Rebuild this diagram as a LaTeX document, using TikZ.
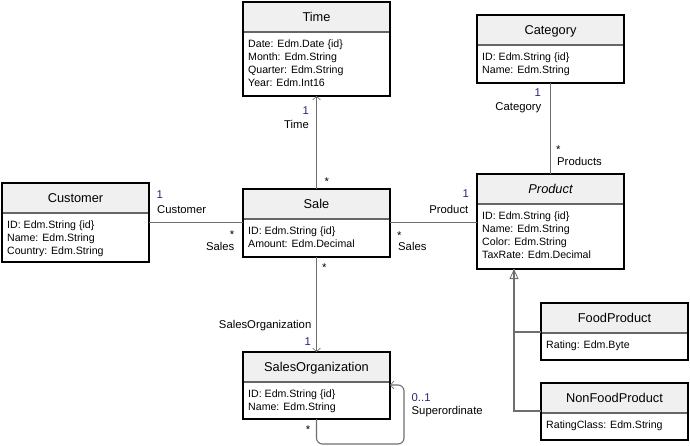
\documentclass[tikz,border=0pt]{standalone}
\usepackage{fontspec}
\setmainfont{Liberation Sans}
\usetikzlibrary{positioning,arrows.meta}
\definecolor{headgray}{HTML}{F0F0F0}
\definecolor{linegray}{HTML}{6E6E6E}
\definecolor{multblue}{HTML}{2E2470}
\tikzset{
  head/.style={draw=black, line width=1.5pt, fill=headgray, inner sep=0pt, outer sep=0pt,
    minimum width=147pt, minimum height=30pt, text height=9.2pt, text depth=0pt,
    font=\fontsize{12.8}{15}\selectfont},
  body/.style={draw=black, line width=1.5pt, fill=white, inner sep=0pt, outer sep=0pt,
    minimum width=147pt},
  sep/.style={draw=gray!80!black, line width=1.5pt, shorten <=0.75pt, shorten >=0.75pt},
  attrs/.style={inner sep=0pt, align=left, font=\fontsize{10.6}{13}\selectfont},
  assoc/.style={draw=linegray, line width=1.1pt},
  nav/.style={-{Straight Barb[length=3.5pt,width=8pt,line width=0.7pt]}},
  gen/.style={-{Triangle[open,length=10pt,width=9pt,line width=0.8pt,fill=white]}},
  lbl/.style={inner sep=0pt, text height=8pt, text depth=2pt, text=black,
    font=\fontsize{11.3}{13}\selectfont},
  mult/.style={lbl, text=multblue},
}
\begin{document}
\begin{tikzpicture}[x=1pt, y=-1pt]
  \useasboundingbox (0,0) rectangle (690,446);
  % Klasse Time
  \node[head] (time) at (316.5,17) {Time};
  \node[body, minimum height=64pt, below=0pt of time] (time-a) {};
  \node[attrs, below right=7.5pt and 5pt of time-a.north west] (time-t)
    {Date: Edm.Date \{id\}\\Month: Edm.String\\Quarter: Edm.String\\Year: Edm.Int16};
  % Klasse Category
  \node[head] (category) at (550.5,30) {Category};
  \node[body, minimum height=38pt, below=0pt of category] (category-a) {};
  \node[attrs, below right=7.5pt and 5pt of category-a.north west] (category-t)
    {ID: Edm.String \{id\}\\Name: Edm.String};
  % Klasse Customer
  \node[head] (customer) at (75.5,198) {Customer};
  \node[body, minimum height=49pt, below=0pt of customer] (customer-a) {};
  \node[attrs, below right=7.5pt and 5pt of customer-a.north west] (customer-t)
    {ID: Edm.String \{id\}\\Name: Edm.String\\Country: Edm.String};
  % Klasse Sale
  \node[head] (sale) at (316.5,204) {Sale};
  \node[body, minimum height=38pt, below=0pt of sale] (sale-a) {};
  \node[attrs, below right=7.5pt and 5pt of sale-a.north west] (sale-t)
    {ID: Edm.String \{id\}\\Amount: Edm.Decimal};
  % Klasse Product (abstrakt)
  \node[head] (product) at (550.5,189) {\itshape Product};
  \node[body, minimum height=65pt, below=0pt of product] (product-a) {};
  \node[attrs, below right=7.5pt and 5pt of product-a.north west] (product-t)
    {ID: Edm.String \{id\}\\Name: Edm.String\\Color: Edm.String\\TaxRate: Edm.Decimal};
  % Klasse SalesOrganization
  \node[head] (salesorg) at (316.5,367) {SalesOrganization};
  \node[body, minimum height=37pt, below=0pt of salesorg] (salesorg-a) {};
  \node[attrs, below right=7.5pt and 5pt of salesorg-a.north west] (salesorg-t)
    {ID: Edm.String \{id\}\\Name: Edm.String};
  % Klasse FoodProduct
  \node[head] (food) at (614.5,318) {FoodProduct};
  \node[body, minimum height=27pt, below=0pt of food] (food-a) {};
  \node[attrs, below right=7.5pt and 5pt of food-a.north west] (food-t)
    {Rating: Edm.Byte};
  % Klasse NonFoodProduct
  \node[head] (nonfood) at (614.5,398) {NonFoodProduct};
  \node[body, minimum height=27pt, below=0pt of nonfood] (nonfood-a) {};
  \node[attrs, below right=7.5pt and 5pt of nonfood-a.north west] (nonfood-t)
    {RatingClass: Edm.String};
  % Trennlinien unter den Kopfzeilen
  \foreach \c in {time,category,customer,sale,product,salesorg,food,nonfood}
    \draw[sep] (\c.south west) -- (\c.south east);
  % Sale - Time
  \draw[assoc, nav] (sale.north) -- (time-a.south);
  \node[mult, anchor=east] (time-m) at (309,112) {1};
  \node[lbl, anchor=east] (time-r) at (309,126) {Time};
  \node[lbl, anchor=west] (sale-m1) at (324.5,182.5) {*};
  % Customer - Sale - Product
  \coordinate (sale-line) at ([yshift=-3.5pt]sale-a.north);
  \draw[assoc] (customer-a.east |- sale-line) -- (sale-a.west |- sale-line);
  \draw[assoc] (sale-a.east |- sale-line) -- (product-a.west |- sale-line);
  \node[mult, anchor=west] (customer-m) at (156.5,196) {1};
  \node[lbl, anchor=west] (customer-r) at (157,211) {Customer};
  \node[lbl, anchor=east] (sale-m2) at (234.5,235.5) {*};
  \node[lbl, anchor=east] (sale-r2) at (234.5,248) {Sales};
  \node[mult, anchor=east] (product-m) at (469,195) {1};
  \node[lbl, anchor=east] (product-r) at (468.5,211) {Product};
  \node[lbl, anchor=west] (sale-m3) at (397,236.5) {*};
  \node[lbl, anchor=west] (sale-r3) at (398,248) {Sales};
  % Category - Product
  \draw[assoc] (category-a.south) -- (product.north);
  \node[mult, anchor=east] (category-m) at (541,94) {1};
  \node[lbl, anchor=east] (category-r) at (541.5,108) {Category};
  \node[lbl, anchor=west] (product-m2) at (556,150.5) {*};
  \node[lbl, anchor=west] (product-r2) at (557,163) {Products};
  % Sale - SalesOrganization
  \draw[assoc, nav] (sale-a.south) -- (salesorg.north);
  \node[lbl, anchor=west] (sale-m4) at (322,268.5) {*};
  \node[lbl, anchor=east] (salesorg-r) at (311.5,325) {SalesOrganization};
  \node[mult, anchor=east] (salesorg-m) at (311,342) {1};
  % Superordinate (Selbstbezug)
  \coordinate (loop) at (404,444);
  \draw[assoc, nav, rounded corners=6pt] (salesorg-a.south) |- (loop)
    |- ([yshift=-3pt]salesorg-a.north east);
  \node[mult, anchor=west] (super-m) at (411.5,398) {0..1};
  \node[lbl, anchor=west] (super-r) at (411.5,411) {Superordinate};
  \node[lbl, anchor=east] (sub-m) at (310.5,430.5) {*};
  % Generalisierung
  \coordinate (gen) at ([xshift=-36.5pt]product-a.south);
  \draw[assoc, gen] ([yshift=2pt]nonfood.south west) -| (gen);
  \draw[assoc] ([yshift=1pt]food.south west) -| (gen);
\end{tikzpicture}
\end{document}
